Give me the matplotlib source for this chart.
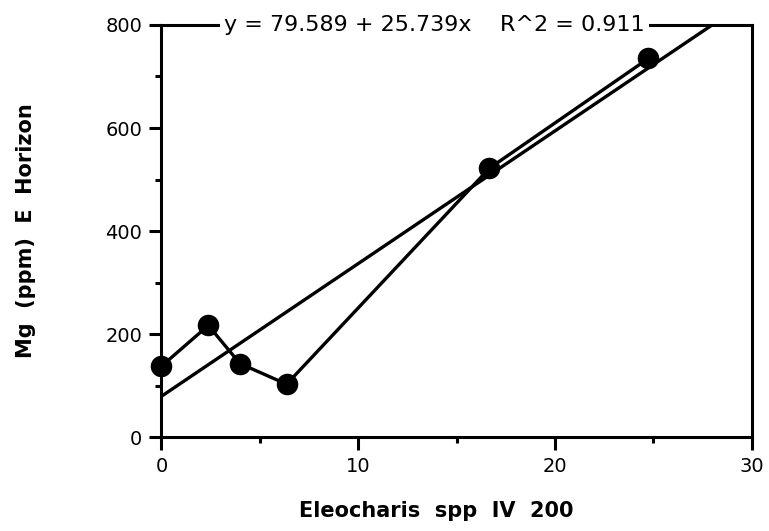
import numpy as np
import matplotlib
matplotlib.use("Agg")
import matplotlib.pyplot as plt
from matplotlib.ticker import MultipleLocator

# データ
iv_200 = [0.0, 2.38, 3.99, 6.36, 16.67, 24.75]
mg_ppm = [138, 217, 143, 103, 522, 735]

# 回帰式
intercept = 79.589
slope = 25.739
r2 = 0.911

plt.rcParams['font.family'] = ['DejaVu Sans']

fig = plt.figure(figsize=(7.69, 5.31), dpi=100)
ax = fig.add_axes([0.21, 0.1765, 0.7675, 0.7765])

# 折れ線と点
ax.plot(iv_200, mg_ppm, color='black', lw=2.4, marker='o', ms=14.5,
        zorder=4, clip_on=False)

# 回帰直線（y=800 まで）
x_end = (800 - intercept) / slope
xs = np.array([0, x_end])
ax.plot(xs, intercept + slope * xs, color='black', lw=2.4, zorder=3)

ax.set_xlim(0, 30)
ax.set_ylim(0, 800)
ax.xaxis.set_major_locator(MultipleLocator(10))
ax.xaxis.set_minor_locator(MultipleLocator(5))
ax.yaxis.set_major_locator(MultipleLocator(200))
ax.yaxis.set_minor_locator(MultipleLocator(100))

for s in ax.spines.values():
    s.set_linewidth(2.2)

ax.tick_params(which='major', direction='out', length=9, width=2.2,
               labelsize=14, pad=5)
ax.tick_params(which='minor', direction='out', length=4, width=2.2)

ax.set_xlabel('Eleocharis  spp  IV  200', fontsize=15, fontweight='bold')
ax.xaxis.set_label_coords(0.465, -0.155)
ax.set_ylabel('Mg  (ppm)  E  Horizon', fontsize=15, fontweight='bold',
              labelpad=50)

eq = 'y = %.3f + %.3fx    R^2 = %.3f' % (intercept, slope, r2)
ax.text(0.462, 1.0, eq, transform=ax.transAxes, ha='center', va='center',
        fontsize=16, zorder=10, clip_on=False,
        bbox=dict(facecolor='white', edgecolor='none', pad=3))

fig.savefig('out.png', dpi=100)
